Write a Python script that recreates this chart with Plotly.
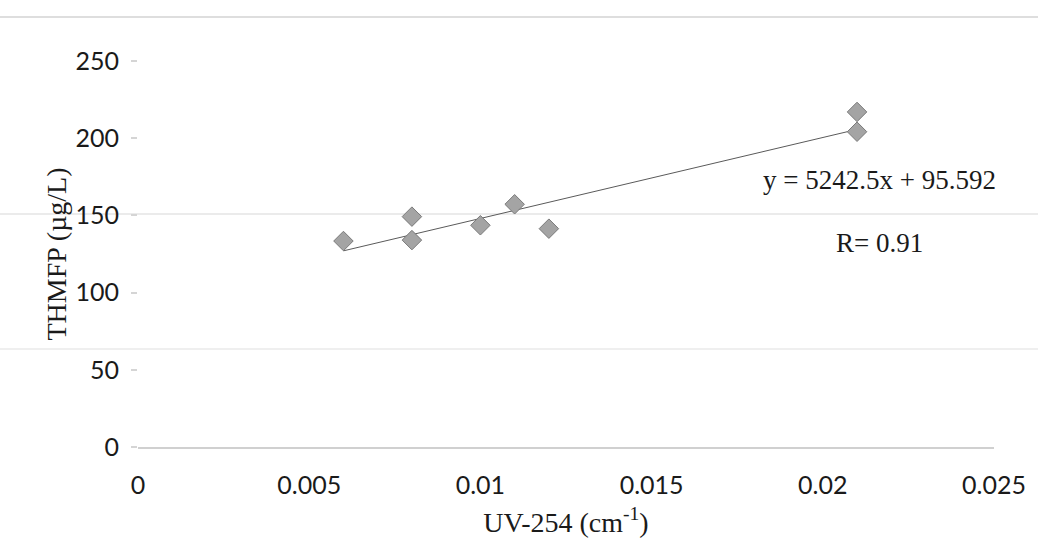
import plotly.graph_objects as go

# UV-254 absorbance (cm^-1) and THM formation potential (µg/L)
uv254 = [0.006, 0.008, 0.008, 0.010, 0.011, 0.012, 0.021, 0.021]
thmfp = [133.4, 149.2, 134.0, 143.6, 157.2, 141.4, 217.0, 204.2]

# Linear fit reported on the chart
slope = 5242.5
intercept = 95.592
r_value = 0.91

x_ticks = [0, 0.005, 0.01, 0.015, 0.02, 0.025]
x_tick_text = ["0", "0.005", "0.01", "0.015", "0.02", "0.025"]
y_ticks = [0, 50, 100, 150, 200, 250]

fit_x = [min(uv254), max(uv254)]
fit_y = [slope * v + intercept for v in fit_x]

serif = "Liberation Serif, Times New Roman, serif"
sans = "Lato, Calibri, sans-serif"

fig = go.Figure()

fig.add_trace(go.Scatter(
    x=fit_x, y=fit_y, mode="lines",
    line=dict(color="#5a5a5a", width=1),
    hoverinfo="skip", showlegend=False,
))

fig.add_trace(go.Scatter(
    x=uv254, y=thmfp, mode="markers",
    marker=dict(symbol="diamond", size=15, color="#a4a4a4",
                line=dict(color="#7a7a7a", width=1)),
    showlegend=False,
))

# faint horizontal page lines across the sheet
for yp, col in [(1.114, "#dedede"), (0.6036, "#ebebeb"), (0.254, "#efefef")]:
    fig.add_shape(type="line", xref="paper", yref="paper",
                  x0=-0.17, x1=1.06, y0=yp, y1=yp,
                  line=dict(color=col, width=2), layer="below")

fig.add_annotation(
    x=0.02167, y=172.9, xref="x", yref="y",
    text=f"y = {slope}x + {intercept}", showarrow=False,
    font=dict(family=serif, size=27, color="#1a1a1a"),
)
fig.add_annotation(
    x=0.02167, y=132.1, xref="x", yref="y",
    text=f"R= {r_value}", showarrow=False,
    font=dict(family=serif, size=27, color="#1a1a1a"),
)

fig.update_layout(
    width=1038, height=560,
    margin=dict(l=138, r=41, t=61, b=113),
    paper_bgcolor="white", plot_bgcolor="white",
    xaxis=dict(
        range=[0, 0.025], tickvals=x_ticks, ticktext=x_tick_text,
        showgrid=False, zeroline=False,
        showline=True, linecolor="#d0d0d0", linewidth=2,
        ticks="", ticklabelstandoff=15,
        tickfont=dict(family=sans, size=25, color="#1a1a1a"),
        title=dict(text="UV-254 (cm<sup>-1</sup>)", standoff=14,
                   font=dict(family=serif, size=28, color="#1a1a1a")),
    ),
    yaxis=dict(
        range=[0, 250], tickvals=y_ticks,
        showgrid=False, zeroline=False, showline=False,
        ticks="outside", ticklen=6, tickcolor="#d5d5d5", tickwidth=1.5,
        ticklabelstandoff=7,
        tickfont=dict(family=sans, size=25, color="#1a1a1a"),
        title=dict(text="THMFP (µg/L)", standoff=0,
                   font=dict(family=serif, size=28, color="#1a1a1a")),
    ),
)

fig.write_html("out.html")
